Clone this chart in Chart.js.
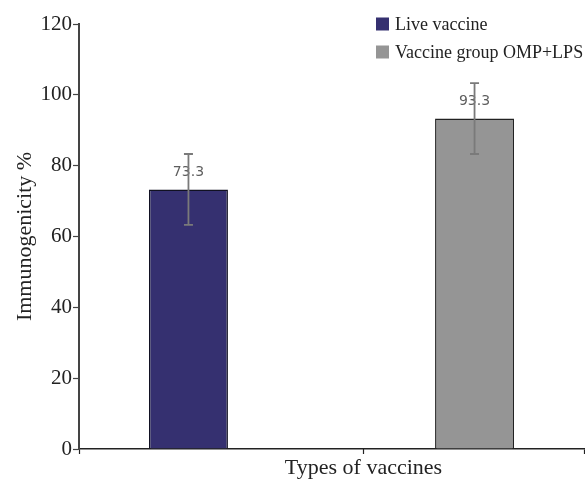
<!DOCTYPE html>
<html>
<head>
<meta charset="utf-8">
<script src="https://cdn.jsdelivr.net/npm/chart.js@4.4.1/dist/chart.umd.min.js"></script>
<style>
  html, body { margin: 0; padding: 0; background: #fff; }
  #wrap { width: 585px; height: 482px; position: relative; }
</style>
</head>
<body>
<div id="wrap"><canvas id="chart"></canvas></div>
<script>
// ==========================================
// DADOS DO GRÁFICO
// ==========================================
const categories = ["Types of vaccines"];
const seriesNames = ["Live vaccine", "Vaccine group OMP+LPS"];
const liveValues = [73.3];
const ompLpsValues = [93.3];
const liveErrors = [10];
const ompLpsErrors = [10];
const yTicks = [0, 20, 40, 60, 80, 100, 120];

const serif = "Liberation Serif";

// ==========================================
// PLUGIN: barras de erro + rótulos de valor
// ==========================================
const errorBarsPlugin = {
  id: "errorBars",
  afterDatasetsDraw(chart) {
    const ctx = chart.ctx;
    const yScale = chart.scales.y;
    chart.data.datasets.forEach((ds, di) => {
      const meta = chart.getDatasetMeta(di);
      meta.data.forEach((bar, i) => {
        const v = ds.data[i];
        const e = ds.errors[i];
        const yTop = yScale.getPixelForValue(v + e);
        const yBot = yScale.getPixelForValue(v - e);
        const yVal = yScale.getPixelForValue(v);
        ctx.save();
        // rótulo do valor (fica atrás da linha de erro)
        ctx.fillStyle = "#5e5e5e";
        ctx.font = "14px 'DejaVu Sans'";
        ctx.textAlign = "center";
        ctx.textBaseline = "middle";
        ctx.fillText(v.toFixed(1), bar.x, yVal - 17);
        // linha de erro
        ctx.strokeStyle = "#7a7a7a";
        ctx.lineWidth = 1.8;
        ctx.beginPath();
        ctx.moveTo(bar.x, yTop);
        ctx.lineTo(bar.x, yBot);
        ctx.moveTo(bar.x - 4.5, yTop);
        ctx.lineTo(bar.x + 4.5, yTop);
        ctx.moveTo(bar.x - 4.5, yBot);
        ctx.lineTo(bar.x + 4.5, yBot);
        ctx.stroke();
        ctx.restore();
      });
    });
  },
};

// ==========================================
// PLUGIN: legenda vertical no canto superior direito
// ==========================================
const cornerLegendPlugin = {
  id: "cornerLegend",
  afterDraw(chart) {
    const ctx = chart.ctx;
    const x0 = 376, y0 = 24, step = 28, box = 13;
    ctx.save();
    ctx.font = "18px '" + serif + "'";
    ctx.textBaseline = "middle";
    ctx.textAlign = "left";
    chart.data.datasets.forEach((ds, i) => {
      const cy = y0 + i * step;
      ctx.fillStyle = ds.backgroundColor;
      ctx.fillRect(x0, cy - box / 2, box, box);
      ctx.fillStyle = "#222";
      ctx.fillText(ds.label, x0 + 19, cy + 1);
    });
    ctx.restore();
  },
};

// ==========================================
// PLUGIN: marca central do eixo X sob o rótulo
// ==========================================
const LABEL_SHIFT = 32;
const midTickPlugin = {
  id: "midTick",
  afterDraw(chart) {
    const xs = chart.scales.x;
    const ctx = chart.ctx;
    ctx.save();
    ctx.strokeStyle = "#222";
    ctx.lineWidth = 1.2;
    categories.forEach((c, i) => {
      const px = xs.getPixelForTick(i) + LABEL_SHIFT;
      ctx.beginPath();
      ctx.moveTo(px, xs.top);
      ctx.lineTo(px, xs.top + 5);
      ctx.stroke();
    });
    ctx.restore();
  },
};

new Chart(document.getElementById("chart"), {
  type: "bar",
  data: {
    labels: categories,
    datasets: [
      {
        label: seriesNames[0],
        data: liveValues,
        errors: liveErrors,
        backgroundColor: "#353070",
        borderColor: "#111122",
        borderWidth: 1.5,
        categoryPercentage: 1.133,
        barPercentage: 0.276,
      },
      {
        label: seriesNames[1],
        data: ompLpsValues,
        errors: ompLpsErrors,
        backgroundColor: "#959595",
        borderColor: "#222",
        borderWidth: 1.5,
        categoryPercentage: 1.133,
        barPercentage: 0.276,
      },
    ],
  },
  options: {
    responsive: true,
    maintainAspectRatio: false,
    animation: false,
    layout: { padding: { top: 24, right: 1, left: 0, bottom: 0 } },
    plugins: {
      legend: { display: false },
      tooltip: { enabled: false },
    },
    scales: {
      x: {
        offset: true,
        grid: {
          offset: true,
          drawOnChartArea: false,
          tickLength: 5,
          color: "#222",
          tickWidth: 1.2,
        },
        border: { display: true, color: "#222", width: 1.5 },
        ticks: {
          color: "#222",
          font: { family: serif, size: 22 },
          padding: 1,
          labelOffset: LABEL_SHIFT,
          maxRotation: 0,
        },
        afterFit(scale) { scale.height = 33; },
      },
      y: {
        min: 0,
        max: 120,
        afterBuildTicks(scale) {
          scale.ticks = yTicks.map((v) => ({ value: v }));
        },
        grid: {
          drawOnChartArea: false,
          tickLength: 6,
          color: "#444",
          tickWidth: 1.2,
        },
        border: { display: true, color: "#444", width: 2 },
        ticks: {
          color: "#222",
          font: { family: serif, size: 21 },
          padding: 1,
        },
        title: {
          display: true,
          text: "Immunogenicity %",
          color: "#222",
          font: { family: serif, size: 22 },
          padding: { top: 12, bottom: 0 },
        },
        afterFit(scale) { scale.width = 79; },
      },
    },
  },
  plugins: [errorBarsPlugin, cornerLegendPlugin, midTickPlugin],
});
</script>
</body>
</html>
